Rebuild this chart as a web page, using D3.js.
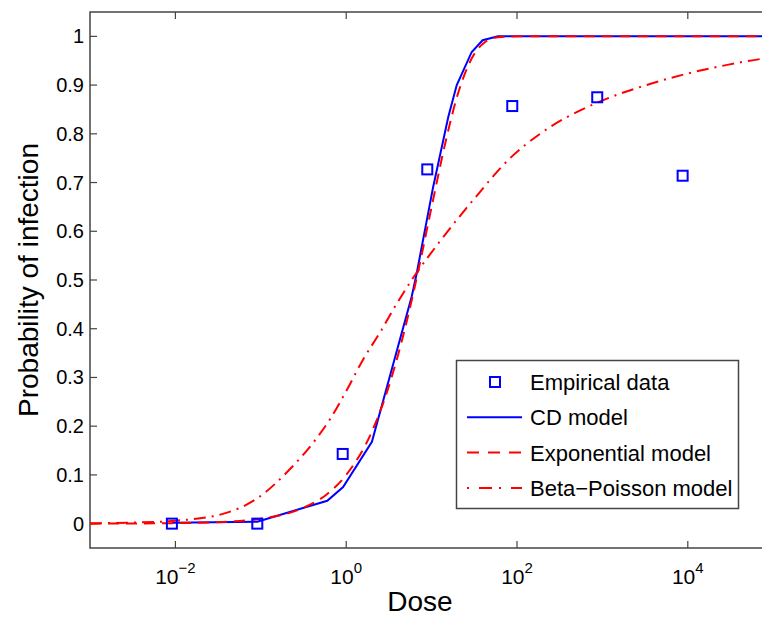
<!DOCTYPE html>
<html>
<head>
<meta charset="utf-8">
<script src="https://cdn.jsdelivr.net/npm/d3@7"></script>
<style>
  body { margin: 0; background: #fff; }
  text { font-family: "Liberation Sans", Arial, sans-serif; fill: #000; }
</style>
</head>
<body>
<div id="chart"></div>
<script>
// Empirical data (dose, probability)
const empDose = [0.0091, 0.091, 0.91, 8.9, 88, 870, 8700];
const empProb = [0, 0, 0.143, 0.727, 0.857, 0.875, 0.714];

// CD model
const cdDose = [0.0091, 0.091, 0.6, 0.92, 2.0, 5.85, 6.7, 10.4, 15.7, 19.7, 29.5, 39.6, 60, 1e5];
const cdProb = [0.002, 0.004, 0.047, 0.075, 0.168, 0.466, 0.514, 0.69, 0.835, 0.9, 0.968, 0.992, 1.0, 1.0];

// Exponential model
const expDose = [0.001, 0.01, 0.03, 0.1, 0.3, 0.6, 1, 2, 3, 5, 7, 10, 15, 20, 30, 40, 60, 100, 1e5];
const expProb = [0, 0.001, 0.003, 0.01, 0.031, 0.061, 0.1, 0.189, 0.27, 0.408, 0.52, 0.65, 0.793, 0.878, 0.957, 0.985, 0.998, 1.0, 1.0];

// Beta-Poisson model
const bpDose = [0.001, 0.003, 0.01, 0.036, 0.091, 0.22, 0.41, 0.65, 1, 1.58, 2.5, 3.57, 6, 12.6, 31, 83, 186, 870, 3000, 8200, 30000, 74000, 1e5];
const bpProb = [0.0007, 0.002, 0.006, 0.02, 0.052, 0.112, 0.166, 0.215, 0.272, 0.337, 0.393, 0.44, 0.503, 0.58, 0.665, 0.75, 0.8, 0.864, 0.898, 0.92, 0.942, 0.954, 0.957];

const yTicks = [0, 0.1, 0.2, 0.3, 0.4, 0.5, 0.6, 0.7, 0.8, 0.9, 1];
const xTickExp = [-2, 0, 2, 4];

const W = 762, H = 617;
const svg = d3.select("#chart").append("svg").attr("width", W).attr("height", H);

const pLeft = 90, pTop = 12, pBottom = 548, pRight = 773.2;
const x = d3.scaleLog().domain([1e-3, 1e5]).range([pLeft, pRight]);
const y = d3.scaleLinear().domain([-0.05, 1.05]).range([pBottom, pTop]);

const axisCol = "#444";

// frame
svg.append("rect")
  .attr("x", pLeft).attr("y", pTop)
  .attr("width", pRight - pLeft).attr("height", pBottom - pTop)
  .attr("fill", "none").attr("stroke", axisCol).attr("stroke-width", 1.5);

// y ticks (inward, both sides) and labels
yTicks.forEach(t => {
  svg.append("line").attr("x1", pLeft).attr("x2", pLeft + 7)
    .attr("y1", y(t)).attr("y2", y(t)).attr("stroke", axisCol).attr("stroke-width", 1.2);
  svg.append("line").attr("x1", pRight).attr("x2", pRight - 7)
    .attr("y1", y(t)).attr("y2", y(t)).attr("stroke", axisCol).attr("stroke-width", 1.2);
  svg.append("text").attr("x", pLeft - 6).attr("y", y(t) + 7)
    .attr("text-anchor", "end").attr("font-size", 20)
    .text(d3.format("")(t));
});

// x ticks
xTickExp.forEach(e => {
  const xp = x(Math.pow(10, e));
  svg.append("line").attr("x1", xp).attr("x2", xp)
    .attr("y1", pBottom).attr("y2", pBottom - 7).attr("stroke", axisCol).attr("stroke-width", 1.2);
  svg.append("line").attr("x1", xp).attr("x2", xp)
    .attr("y1", pTop).attr("y2", pTop + 7).attr("stroke", axisCol).attr("stroke-width", 1.2);
  const t = svg.append("text").attr("x", xp).attr("y", 584)
    .attr("text-anchor", "middle").attr("font-size", 21);
  t.append("tspan").text("10");
  t.append("tspan").attr("dy", -11).attr("font-size", 15)
    .text(e < 0 ? "\u2212" + (-e) : String(e));
});

// axis labels
svg.append("text").attr("x", (pLeft + 762) / 2 - 6).attr("y", 611)
  .attr("text-anchor", "middle").attr("font-size", 28).text("Dose");
svg.append("text").attr("transform", "translate(38," + 280 + ") rotate(-90)")
  .attr("text-anchor", "middle").attr("font-size", 28).text("Probability of infection");

const g = svg.append("g");
const line = d3.line().x(d => x(d[0])).y(d => y(d[1]));
const smooth = d3.line().x(d => x(d[0])).y(d => y(d[1])).curve(d3.curveMonotoneX);

g.append("path").datum(d3.zip(cdDose, cdProb))
  .attr("d", line).attr("fill", "none").attr("stroke", "#0000ff").attr("stroke-width", 2);
g.append("path").datum(d3.zip(expDose, expProb))
  .attr("d", smooth).attr("fill", "none").attr("stroke", "#ff0000").attr("stroke-width", 2)
  .attr("stroke-dasharray", "11,7");
g.append("path").datum(d3.zip(bpDose, bpProb))
  .attr("d", smooth).attr("fill", "none").attr("stroke", "#ff0000").attr("stroke-width", 2)
  .attr("stroke-dasharray", "12,6,2,6");

g.selectAll("rect.emp").data(d3.zip(empDose, empProb)).enter().append("rect")
  .attr("class", "emp")
  .attr("x", d => x(d[0]) - 5).attr("y", d => y(d[1]) - 5)
  .attr("width", 10).attr("height", 10)
  .attr("fill", "none").attr("stroke", "#0000ff").attr("stroke-width", 2);

// legend
const lg = svg.append("g");
lg.append("rect").attr("x", 456.5).attr("y", 360.5).attr("width", 282).attr("height", 148)
  .attr("fill", "#fff").attr("stroke", axisCol).attr("stroke-width", 1.5);
const items = [
  {label: "Empirical data", type: "marker"},
  {label: "CD model", type: "solid"},
  {label: "Exponential model", type: "dash"},
  {label: "Beta\u2212Poisson model", type: "dashdot"}
];
items.forEach((it, i) => {
  const cy = 382 + i * 35.3;
  if (it.type === "marker") {
    lg.append("rect").attr("x", 490).attr("y", cy - 5).attr("width", 10).attr("height", 10)
      .attr("fill", "none").attr("stroke", "#0000ff").attr("stroke-width", 2);
  } else {
    lg.append("line").attr("x1", 467).attr("x2", 522).attr("y1", cy).attr("y2", cy)
      .attr("stroke", it.type === "solid" ? "#0000ff" : "#ff0000").attr("stroke-width", 2)
      .attr("stroke-dasharray", it.type === "dash" ? "12,9" : it.type === "dashdot" ? "2,10,13,7" : null);
  }
  lg.append("text").attr("x", 530).attr("y", cy + 8).attr("font-size", 22).text(it.label);
});
</script>
</body>
</html>
